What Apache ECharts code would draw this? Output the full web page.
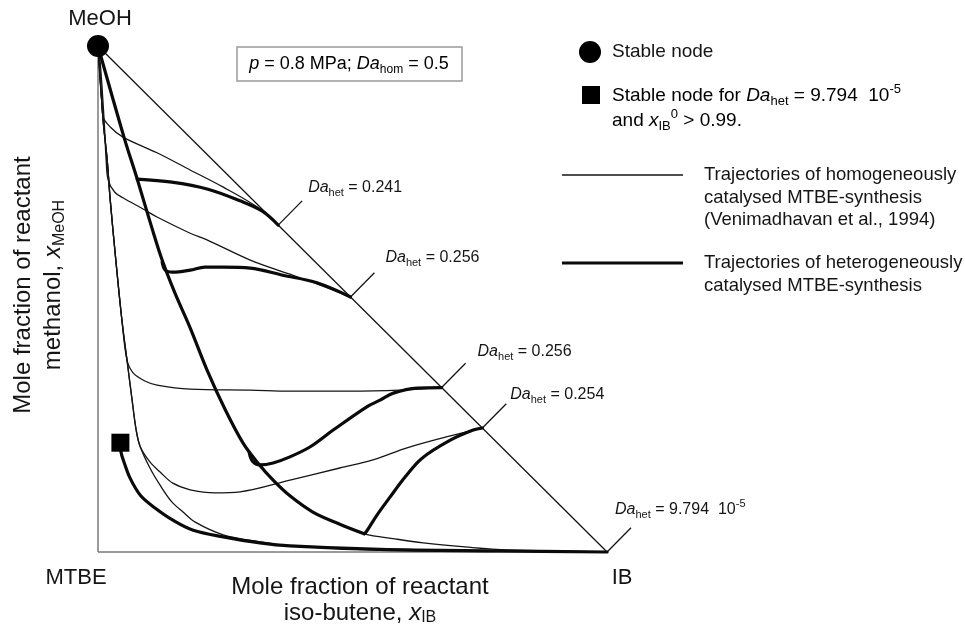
<!DOCTYPE html>
<html>
<head>
<meta charset="utf-8">
<script src="https://cdn.jsdelivr.net/npm/echarts@6/dist/echarts.min.js"></script>
<style>
  html, body { margin: 0; padding: 0; background: #ffffff; }
  #chart { width: 965px; height: 632px; }
</style>
</head>
<body>
<div id="chart"></div>
<script>
// Reactive distillation trajectories in the MTBE / IB / MeOH composition triangle.
// x = mole fraction of iso-butene, y = mole fraction of methanol.

const vertexNames = ['MeOH', 'MTBE', 'IB'];
const vertices = [[0, 1], [0, 0], [1, 0]];
const sideMeOH = [[0, 0], [0, 1]];
const sideIB = [[0, 0], [1, 0]];
const diagonal = [[0, 1], [1, 0]];
const stableNode = [[0, 1]];
const stableNodeHet = [[0.044, 0.216]];

// Homogeneously catalysed trajectories (thin lines)
const hom1 = [[0, 1], [0.004, 0.933], [0.008, 0.884], [0.010, 0.860], [0.024, 0.840], [0.049, 0.820],
  [0.116, 0.789], [0.181, 0.755], [0.246, 0.721], [0.312, 0.682], [0.354, 0.646]];
const hom2 = [[0, 1], [0.004, 0.972], [0.012, 0.854], [0.016, 0.775], [0.020, 0.735], [0.033, 0.711],
  [0.049, 0.700], [0.092, 0.676], [0.116, 0.662], [0.181, 0.630], [0.214, 0.617], [0.299, 0.577],
  [0.377, 0.549], [0.430, 0.530], [0.496, 0.504]];
const hom3 = [[0, 1], [0.002, 0.972], [0.010, 0.854], [0.018, 0.775], [0.024, 0.696], [0.035, 0.577],
  [0.047, 0.458], [0.057, 0.379], [0.069, 0.354], [0.092, 0.338], [0.116, 0.330], [0.181, 0.322],
  [0.299, 0.320], [0.377, 0.318], [0.495, 0.318], [0.593, 0.320], [0.658, 0.324], [0.675, 0.325]];
const hom4 = [[0, 1], [0.002, 0.972], [0.010, 0.854], [0.018, 0.775], [0.024, 0.696], [0.035, 0.577],
  [0.047, 0.458], [0.057, 0.379], [0.067, 0.300], [0.075, 0.241], [0.083, 0.208], [0.102, 0.178],
  [0.122, 0.158], [0.147, 0.136], [0.181, 0.123], [0.230, 0.117], [0.279, 0.119], [0.377, 0.142],
  [0.475, 0.166], [0.540, 0.182], [0.607, 0.206], [0.682, 0.227], [0.755, 0.245]];
const hom5 = [[0, 1], [0.002, 0.972], [0.010, 0.854], [0.018, 0.775], [0.024, 0.696], [0.035, 0.577],
  [0.047, 0.458], [0.057, 0.379], [0.067, 0.300], [0.075, 0.241], [0.083, 0.208], [0.102, 0.166],
  [0.122, 0.132], [0.145, 0.099], [0.167, 0.079], [0.191, 0.059], [0.246, 0.034], [0.318, 0.020],
  [0.377, 0.012], [0.554, 0.004], [0.790, 0.002], [1, 0]];
const homTail = [[0.523, 0.036], [0.583, 0.026], [0.639, 0.018], [0.721, 0.010], [0.804, 0.004], [1, 0]];

// Heterogeneously catalysed trajectories (thick lines)
const separatrix = [[0, 1], [0.051, 0.820], [0.077, 0.737], [0.106, 0.640], [0.126, 0.577], [0.151, 0.512],
  [0.181, 0.443], [0.214, 0.360], [0.250, 0.281], [0.285, 0.215], [0.314, 0.176], [0.344, 0.142],
  [0.377, 0.111], [0.422, 0.079], [0.475, 0.055], [0.523, 0.036]];
const het0241 = [[0.354, 0.646], [0.322, 0.674], [0.279, 0.694], [0.216, 0.717], [0.145, 0.731], [0.077, 0.737]];
const het0256a = [[0.496, 0.504], [0.430, 0.532], [0.363, 0.547], [0.299, 0.561], [0.246, 0.563],
  [0.210, 0.563], [0.181, 0.557], [0.147, 0.553], [0.132, 0.557], [0.126, 0.573]];
const het0256b = [[0.675, 0.325], [0.627, 0.324], [0.580, 0.314], [0.554, 0.300], [0.528, 0.287],
  [0.462, 0.241], [0.417, 0.208], [0.377, 0.188], [0.344, 0.176], [0.318, 0.172], [0.303, 0.180], [0.297, 0.197]];
const het0254 = [[0.755, 0.245], [0.737, 0.241], [0.692, 0.221], [0.636, 0.185], [0.604, 0.149],
  [0.574, 0.109], [0.548, 0.073], [0.527, 0.040], [0.523, 0.036]];
const het9794 = [[1, 0], [0.790, 0.002], [0.554, 0.005], [0.377, 0.012], [0.318, 0.018], [0.246, 0.030],
  [0.187, 0.043], [0.147, 0.063], [0.112, 0.087], [0.084, 0.111], [0.063, 0.146], [0.051, 0.178],
  [0.045, 0.198], [0.044, 0.216]];

// Damköhler numbers of the heterogeneous runs, attached at their start points
const daStarts = [het0241[0], het0256a[0], het0256b[0], het0254[0], het9794[0]];
const daMantissa = ['0.241', '0.256', '0.256', '0.254', '9.794  10'];
const daExponent = ['', '', '', '', '-5'];

const FONT = '"Liberation Sans", Arial, Helvetica, sans-serif';
const INK = '#151515';
const AXIS_GREY = '#7a7a7a';

function richSet(size, lineHeight) {
  const sub = Math.round(size * 0.66);
  const lh = lineHeight || size + 6;
  return {
    n: { fontSize: size, lineHeight: lh, fontFamily: FONT, color: INK },
    i: { fontSize: size, lineHeight: lh, fontFamily: FONT, color: INK, fontStyle: 'italic' },
    s: { fontSize: sub, lineHeight: sub, verticalAlign: 'bottom', fontFamily: FONT, color: INK },
    p: { fontSize: sub, lineHeight: sub, verticalAlign: 'top', fontFamily: FONT, color: INK }
  };
}

function daText(k) {
  let t = '{i|Da}{s|het}{n| = ' + daMantissa[k] + '}';
  if (daExponent[k]) t += '{p|' + daExponent[k] + '}';
  return t;
}

const tickStep = [0.047, 0.048];
const tickTips = daStarts.map(p => [p[0] + tickStep[0], p[1] + tickStep[1]]);
const labelOffsets = [[6, -13], [11, -15], [12, -12], [4, -9], [-16, -18]];

function plainLine(name, data, color, width) {
  return { name, type: 'line', data, symbol: 'none', clip: false, silent: true, z: 2,
    lineStyle: { color, width } };
}
function thinLine(name, data) {
  return { name, type: 'line', data, symbol: 'none', smooth: 0.35, clip: false, silent: true, z: 2,
    lineStyle: { color: INK, width: 1.3 } };
}
function thickLine(name, data) {
  return { name, type: 'line', data, symbol: 'none', smooth: 0.35, clip: false, silent: true, z: 3,
    lineStyle: { color: '#0a0a0a', width: 3.2, cap: 'round', join: 'round' } };
}

const series = [
  plainLine('side MTBE-MeOH', sideMeOH, AXIS_GREY, 1.5),
  plainLine('side MTBE-IB', sideIB, AXIS_GREY, 1.5),
  plainLine('diagonal', diagonal, INK, 1.3),
  thinLine('hom1', hom1),
  thinLine('hom2', hom2),
  thinLine('hom3', hom3),
  thinLine('hom4', hom4),
  thinLine('hom5', hom5),
  thinLine('hom6', separatrix.concat(homTail.slice(1))),
  thickLine('separatrix', separatrix),
  thickLine('Da 0.241', het0241),
  thickLine('Da 0.256 a', het0256a),
  thickLine('Da 0.256 b', het0256b),
  thickLine('Da 0.254', het0254),
  thickLine('Da 9.794e-5', het9794)
];

daStarts.forEach((p, k) => {
  series.push(plainLine('tick' + k, [p, tickTips[k]], INK, 1.3));
});

series.push({
  name: 'Da labels', type: 'scatter', symbolSize: 0, silent: true, z: 5, clip: false,
  itemStyle: { opacity: 1 },
  data: tickTips.map((t, k) => ({
    value: t,
    label: {
      show: true, position: 'right', distance: 0, offset: labelOffsets[k], opacity: 1,
      formatter: daText(k),
      rich: richSet(16)
    }
  }))
});

series.push({
  name: 'stable node', type: 'scatter', data: stableNode, symbol: 'circle', symbolSize: 22, clip: false,
  itemStyle: { color: '#000', opacity: 1 }, silent: true, z: 6
});
series.push({
  name: 'stable node het', type: 'scatter', data: stableNodeHet, symbol: 'rect', symbolSize: 18, clip: false,
  itemStyle: { color: '#000', opacity: 1 }, silent: true, z: 6
});

const vertexOffsets = [[2, -27], [-22, 26], [15, 26]];
series.push({
  name: 'vertices', type: 'scatter', symbolSize: 0, silent: true, z: 6, clip: false,
  itemStyle: { opacity: 1 },
  data: vertices.map((v, k) => ({
    value: v,
    label: { show: true, position: 'inside', offset: vertexOffsets[k], formatter: vertexNames[k],
      fontSize: 22, fontFamily: FONT, color: INK, opacity: 1 }
  }))
});

const hiddenAxisParts = {
  axisLine: { show: false }, axisTick: { show: false }, axisLabel: { show: false }, splitLine: { show: false }
};

const option = {
  animation: false,
  backgroundColor: '#ffffff',
  // x runs to 1.1 so the annotation ticks beyond the IB corner stay on the grid
  grid: { left: 98, right: 307, top: 46, bottom: 80, containLabel: false, outerBoundsMode: 'none' },
  xAxis: Object.assign({
    type: 'value', min: 0, max: 1.1,
    name: '{n|Mole fraction of reactant}\n{n|iso-butene, }{i|x}{s|IB}',
    nameLocation: 'middle', nameGap: 22,
    nameTextStyle: { rich: richSet(24, 26), align: 'center', padding: [0, 36, 0, 0] }
  }, hiddenAxisParts),
  yAxis: Object.assign({
    type: 'value', min: 0, max: 1,
    name: '{n|Mole fraction of reactant}\n{n|methanol, }{i|x}{s|MeOH}',
    nameLocation: 'middle', nameGap: 30, nameRotate: 90,
    nameTextStyle: { rich: richSet(24, 30), align: 'center', padding: [0, 0, 0, 28] }
  }, hiddenAxisParts),
  graphic: [
    { type: 'rect', shape: { x: 237, y: 47, width: 225, height: 34 }, z: 10,
      style: { fill: '#fff', stroke: '#9a9a9a', lineWidth: 1.5 } },
    { type: 'text', x: 349, y: 64, z: 11,
      style: { text: '{i|p}{n| = 0.8 MPa; }{i|Da}{s|hom}{n| = 0.5}', rich: richSet(18),
        align: 'center', verticalAlign: 'middle' } },
    // legend
    { type: 'circle', shape: { cx: 590, cy: 52, r: 11 }, style: { fill: '#000' }, z: 10 },
    { type: 'text', x: 612, y: 52, z: 10,
      style: { text: 'Stable node', font: '19px ' + FONT, fill: INK, verticalAlign: 'middle' } },
    { type: 'rect', shape: { x: 582, y: 86, width: 18, height: 18 }, style: { fill: '#000' }, z: 10 },
    { type: 'text', x: 612, y: 83, z: 10,
      style: { text: '{n|Stable node for }{i|Da}{s|het}{n| = 9.794  10}{p|-5}\n{n|and }{i|x}{s|IB}{p|0}{n| > 0.99.}',
        rich: richSet(19), verticalAlign: 'top' } },
    { type: 'line', shape: { x1: 562, y1: 175, x2: 683, y2: 175 }, style: { stroke: INK, lineWidth: 1.5 }, z: 10 },
    { type: 'text', x: 704, y: 164, z: 10,
      style: { text: 'Trajectories of homogeneously\ncatalysed MTBE-synthesis\n(Venimadhavan et al., 1994)',
        font: '18.5px ' + FONT, lineHeight: 22.5, fill: INK, verticalAlign: 'top' } },
    { type: 'line', shape: { x1: 562, y1: 263, x2: 683, y2: 263 }, style: { stroke: '#0a0a0a', lineWidth: 3.2 }, z: 10 },
    { type: 'text', x: 704, y: 252, z: 10,
      style: { text: 'Trajectories of heterogeneously\ncatalysed MTBE-synthesis',
        font: '18.5px ' + FONT, lineHeight: 22.5, fill: INK, verticalAlign: 'top' } }
  ],
  series
};

const chart = echarts.init(document.getElementById('chart'), null, { renderer: 'canvas' });
chart.setOption(option);
</script>
</body>
</html>
